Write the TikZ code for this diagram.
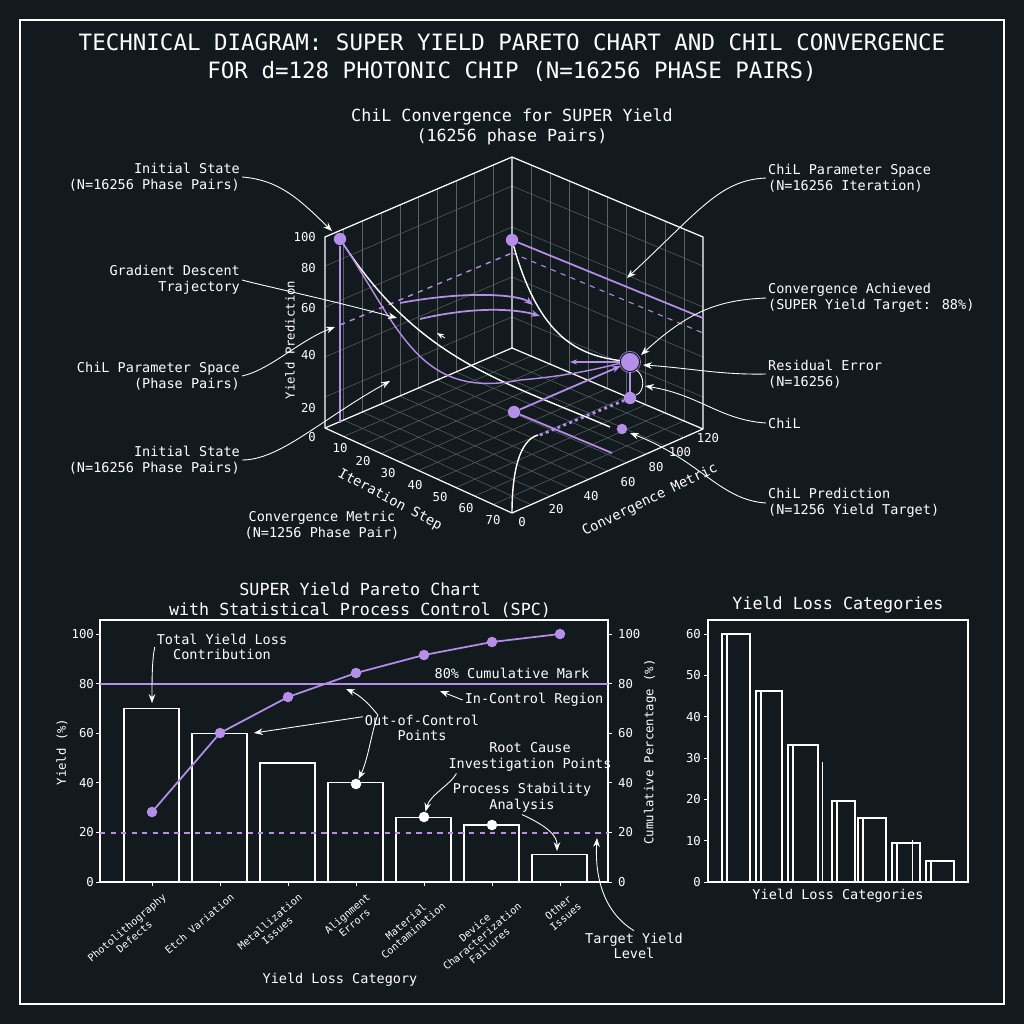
\documentclass[tikz,border=0pt]{standalone}
\usepackage{fontspec}
\setmainfont{DejaVu Sans Mono}
\usetikzlibrary{arrows.meta,calc}
\definecolor{bg}{HTML}{121A1E}
\definecolor{pur}{HTML}{B48EE8}
\definecolor{grd}{HTML}{5A6266}
\begin{document}
\begin{tikzpicture}[x=0.02cm,y=-0.02cm,
  txt/.style={text=white,font=\fontsize{7.7}{9}\selectfont,align=center,inner sep=1pt},
  cat/.style={text=white,font=\fontsize{5.8}{6.6}\selectfont,align=center,inner sep=1pt,rotate=40,anchor=north east},
  tk/.style={text=white,font=\fontsize{7}{8}\selectfont,inner sep=1pt},
  ann/.style={draw=white,line width=0.5pt,-{Stealth[length=5pt]}},
  pl/.style={draw=pur,line width=1pt},
  pt/.style={circle,fill=pur,inner sep=0pt,minimum size=7pt},
  wd/.style={circle,fill=white,inner sep=0pt,minimum size=6pt},
  gr/.style={draw=grd,line width=0.3pt},
  ax/.style={draw=white,line width=0.7pt}]
\fill[bg] (0,0) rectangle (1024,1024);
\useasboundingbox (0,0) rectangle (1024,1024);
\draw[white,line width=0.6pt] (20,20) rectangle (1004,1004);
\node[text=white,font=\fontsize{12.8}{16}\selectfont,align=center] (title) at (512,58) {TECHNICAL DIAGRAM: SUPER YIELD PARETO CHART AND CHIL CONVERGENCE\\FOR d=128 PHOTONIC CHIP (N=16256 PHASE PAIRS)};
\node[text=white,font=\fontsize{9.5}{11.5}\selectfont,align=center] (st) at (512,127) {ChiL Convergence for SUPER Yield\\(16256 phase Pairs)};
\foreach \f in {0.1,0.2,...,0.91}{
  \draw[gr] ($(325,237)!\f!(512,157)$) -- ($(325,428)!\f!(512,348)$);
  \draw[gr] ($(512,157)!\f!(703,237)$) -- ($(512,348)!\f!(703,429)$);
  \draw[gr] ($(325,428)!\f!(512,348)$) -- ($(512,513)!\f!(703,429)$);
  \draw[gr] ($(325,428)!\f!(512,513)$) -- ($(512,348)!\f!(703,429)$);
}
\foreach \h in {0,29,70,120,160}{
  \draw[gr] (325,237+\h) -- (512,157+\h) -- (703,237+\h);
}
\draw[ax] (325,237) -- (512,157) -- (703,237) -- (703,429) -- (512,513) -- (325,428) -- cycle;
\draw[ax] (512,157) -- (512,348) -- (325,428);
\draw[ax] (512,348) -- (703,429);
\foreach \v/\y in {100/237,80/268,60/308,40/355,20/408,0/437}{\node[tk,anchor=east] at (318,\y) {\v};}
\node[tk,rotate=90] (ylab) at (290,340) {Yield Prediction};
\foreach \v/\x/\y in {10/340/448, 20/363/461, 30/388/473, 40/415/485, 50/440/497, 60/466/508, 70/493/520}{\node[tk] at (\x,\y) {\v};}
\node[tk,font=\fontsize{7.8}{9}\selectfont,rotate=-28] (its) at (390,500) {Iteration Step};
\foreach \v/\x/\y in {0/522/522, 20/556/509, 40/591/496, 60/628/482, 80/656/467, 100/680/452, 120/708/438}{\node[tk] at (\x,\y) {\v};}
\node[tk,font=\fontsize{7.8}{9}\selectfont,rotate=26] (cm) at (650,500) {Convergence Metric};
\node[txt] (cml) at (322,525) {Convergence Metric\\(N=1256 Phase Pair)};
\node[pt] (p1) at (340,239) {};
\node[pt] (p2) at (512,240) {};
\node[pt] (p3) at (514,412) {};
\node[pt,minimum size=11pt,draw=pur,double=bg] (p4) at (630,362) {};
\node[pt] (p5) at (630,398) {};
\node[pt,minimum size=6pt] (p6) at (622,429) {};
\draw[pl] (p1) -- (340,423);
\draw[pl] (p2) -- (703,318);
\draw[pur,dashed,line width=0.6pt] (512,253) -- (703,333);
\draw[pur,dashed,line width=0.8pt] (340,325) -- (512,253);
\draw[white,line width=0.8pt] (p1) .. controls (420,360) and (500,380) .. (610,427);
\draw[pl,line width=0.8pt] (p1) .. controls (400,330) and (420,400) .. (520,380) .. controls (580,375) and (610,365) .. (p4);
\draw[white,line width=0.8pt] (p2) .. controls (540,340) and (580,355) .. (p4);
\draw[pl,-{Stealth[length=5pt]}] (400,303) .. controls (470,290) and (520,295) .. (533,305);
\draw[pl,-{Stealth[length=5pt]}] (420,319) .. controls (480,305) and (520,310) .. (540,316);
\draw[pl,-{Stealth[length=4pt]}] (p4) -- (570,362);
\draw[pl,-{Stealth[length=5pt]}] (p3) -- (p4);
\draw[pl,line width=1.2pt] (p4) -- (p5);
\draw[pur,dotted,line width=1.6pt] (540,435) -- (p5);
\draw[pl] (p3) -- (612,453);
\draw[white,line width=0.8pt] (512,513) .. controls (512,470) and (520,440) .. (538,435);
\draw[white,line width=0.5pt] (636,370) .. controls (645,375) and (645,392) .. (636,395);
\node[txt,align=right,anchor=east] (a1) at (242,177) {Initial State\\(N=16256 Phase Pairs)};
\node[txt,align=right,anchor=east] (a2) at (242,280) {Gradient Descent\\Trajectory};
\node[txt,align=right,anchor=east] (a3) at (242,376) {ChiL Parameter Space\\(Phase Pairs)};
\node[txt,align=right,anchor=east] (a4) at (242,460) {Initial State\\(N=16256 Phase Pairs)};
\draw[ann] (a1.east) .. controls (280,180) and (300,200) .. (332,231);
\draw[ann] (a2.east) .. controls (260,285) and (330,300) .. (397,318);
\draw[ann] (a3.east) .. controls (270,370) and (300,340) .. (335,327);
\draw[ann] (a4.east) .. controls (280,460) and (320,420) .. (390,381);
\draw[white,line width=0.5pt,-{Stealth[length=4pt]}] (445,338) -- (437,333);
\node[txt,align=left,anchor=west] (b1) at (766,178) {ChiL Parameter Space\\(N=16256 Iteration)};
\node[txt,align=left,anchor=west] (b2) at (766,298) {Convergence Achieved\\(SUPER Yield Target: 88\%)};
\node[txt,align=left,anchor=west] (b3) at (766,374) {Residual Error\\(N=16256)};
\node[txt,align=left,anchor=west] (b4) at (766,423) {ChiL};
\node[txt,align=left,anchor=west] (b5) at (766,503) {ChiL Prediction\\(N=1256 Yield Target)};
\draw[ann] (b1.west) .. controls (720,180) and (700,210) .. (627,278);
\draw[ann] (b2.west) .. controls (720,300) and (690,310) .. (641,355);
\draw[ann] (b3.west) .. controls (720,375) and (690,368) .. (643,365);
\draw[ann] (b4.west) .. controls (720,420) and (700,395) .. (645,386);
\draw[ann] (b5.west) .. controls (720,500) and (700,460) .. (630,433);
\node[text=white,font=\fontsize{9.5}{11.5}\selectfont,align=center] (pt1) at (360,600) {SUPER Yield Pareto Chart\\with Statistical Process Control (SPC)};
\draw[ax] (100,620) rectangle (608,882);
\foreach \v in {0,20,40,60,80,100}{
  \node[tk,anchor=east] at (96,882-2.48*\v) {\v};
  \node[tk,anchor=west] at (616,882-2.48*\v) {\v};
  \draw[white] (100,882-2.48*\v) -- (96,882-2.48*\v);
  \draw[white] (608,882-2.48*\v) -- (612,882-2.48*\v);}
\node[tk,rotate=90] (yl) at (62,752) {Yield (\%)};
\node[tk,rotate=90] (yr) at (650,752) {Cumulative Percentage (\%)};
\foreach \i/\h in {0/70,1/60,2/48,3/40,4/26,5/23,6/11}{
  \draw[white,line width=0.7pt] (124+68*\i,882) rectangle (179+68*\i,882-2.48*\h);
  \draw[white] (152+68*\i,882) -- (152+68*\i,886);}
\draw[pur,line width=0.8pt] (100,684) -- (608,684);
\draw[pur,dashed,line width=0.7pt] (100,833) -- (608,833);
\draw[pl] (152,812) -- (220,733) -- (288,697) -- (356,673) -- (424,655) -- (492,642) -- (560,634);
\foreach \x/\y in {152/812,220/733,288/697,356/673,424/655,492/642,560/634}{\node[pt,minimum size=6pt] at (\x,\y) {};}
\node[wd] (w1) at (356,784) {};
\node[wd] (w2) at (424,817) {};
\node[wd] (w3) at (492,825) {};
\node[txt] (c1) at (222,647) {Total Yield Loss\\Contribution};
\node[txt] (c2) at (512,673) {80\% Cumulative Mark};
\node[txt] (c3) at (534,700) {In-Control Region};
\node[txt] (c4) at (422,728) {Out-of-Control\\Points};
\node[txt] (c5) at (530,757) {Root Cause\\Investigation Points};
\node[txt] (c6) at (522,798) {Process Stability\\Analysis};
\node[txt] (c7) at (634,946) {Target Yield\\Level};
\draw[ann] (c1.west) .. controls (152,660) and (152,680) .. (152,703);
\draw[ann] (c3.west) -- (440,691);
\draw[ann] (c4.north west) ++(0,4) -- (254,733);
\draw[ann] (378,714) .. controls (372,730) and (368,760) .. (w1);
\draw[ann] (377,714) .. controls (370,705) and (360,695) .. (346,689);
\draw[ann] (c5.south west) ++(10,0) .. controls (450,785) and (430,795) .. (w2);
\draw[ann] (c6.south) .. controls (556,830) and (557,840) .. (557,851);
\draw[ann] (c7.north) .. controls (600,910) and (595,870) .. (597,838);
\node[cat] at (162,890) {Photolithography\\Defects};
\node[cat] at (230,890) {Etch Variation};
\node[cat] at (298,890) {Metallization\\Issues};
\node[cat] at (366,890) {Alignment\\Errors};
\node[cat] at (434,890) {Material\\Contamination};
\node[cat] at (510,890) {Device\\Characterization\\Failures};
\node[cat] at (570,890) {Other\\Issues};
\node[txt] (xl) at (340,980) {Yield Loss Category};
\node[text=white,font=\fontsize{9.5}{11.5}\selectfont] (rt) at (838,605) {Yield Loss Categories};
\draw[ax] (708,620) rectangle (968,882);
\foreach \v in {0,10,...,60}{
  \node[tk,anchor=east] at (703,882-4.13*\v) {\v};
  \draw[white] (708,882-4.13*\v) -- (704,882-4.13*\v);}
\foreach \a/\b/\h in {722/750/634,756/782/691,788/818/745,832/855/801,858/886/818,892/920/843,926/954/861}{
  \draw[white,line width=0.6pt] (\a,882) rectangle (\b,\h);
  \draw[white,line width=0.6pt] (\a+5,882) -- (\a+5,\h);}
\draw[white,line width=0.5pt] (822,882) -- (822,762);
\draw[white,line width=0.5pt] (912,882) -- (912,840);
\node[txt] (rx) at (838,896) {Yield Loss Categories};
\end{tikzpicture}
\end{document}
